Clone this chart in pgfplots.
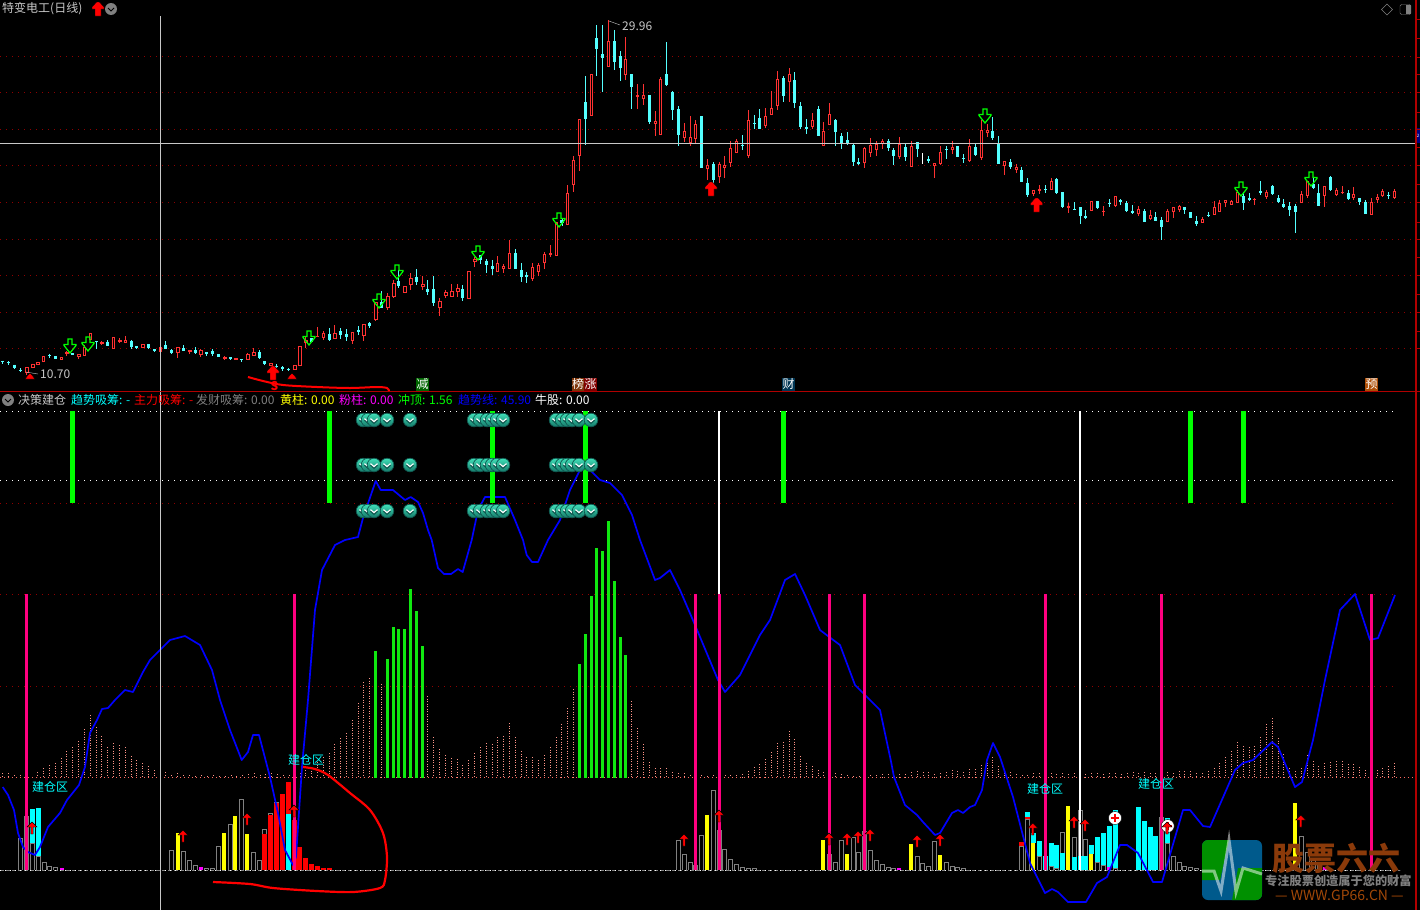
\documentclass[border=0pt]{standalone}
\usepackage{fontspec}
\setmainfont{Noto Sans CJK SC}
\usepackage{pgfplots}
\usepackage{pgfplotstable}
\pgfplotsset{compat=1.18}

\definecolor{upred}{HTML}{FF3232}
\definecolor{downcyan}{HTML}{54FFFF}
\definecolor{gridred}{HTML}{900000}
\definecolor{axisred}{HTML}{B00000}
\definecolor{hair}{HTML}{C8C8C8}
\definecolor{salmon}{HTML}{FF9488}
\definecolor{barpink}{HTML}{FF0080}
\definecolor{bargray}{HTML}{808080}
\definecolor{volgreen}{HTML}{10E810}
\definecolor{wmbrown}{HTML}{8B3A0A}
\definecolor{wmgreen}{HTML}{009000}
\definecolor{wmblue}{HTML}{005A8C}
\definecolor{purecyan}{HTML}{00FFFF}
\definecolor{pureyellow}{HTML}{FFFF00}
\definecolor{puremagenta}{HTML}{FF00FF}
\definecolor{puregreen}{HTML}{00FF00}
\definecolor{purered}{HTML}{FF0000}
\definecolor{pureblue}{HTML}{0000FF}
\definecolor{cointop}{HTML}{40E0B8}
\definecolor{coinbot}{HTML}{147868}
\definecolor{coinrim}{HTML}{0F5850}

% all positions in pixels, so 1 unit = 1px
\pgfplotstableread{
x t b h l
26.7 367 373 367 375
32.7 363.5 368 363.5 368
38 362 365 362 365
43.5 356 362 356 362
61.5 357 359.5 357 360
66.7 352 354 351 356
78.7 354 357 354 359
84.4 347 356 345 356
90.4 333 340 333 340
101.8 342 344 341 345
113.6 337 349 337 349
119.7 340 342 338 343
125.6 340 343 336 343
142.7 344 348 344 348
160.3 347 352 347 352
177.7 347 353 347 358
189.7 350 352 350 354
200.7 350 355 349 357
224.7 357 359 356 360
235.7 358 360 358 360
247.7 354 360 353 360
253.7 352 356 348 356
270.7 363 366 363 366
294.7 365 370 365 370
299.7 346 366 346 366
305.7 340 343 337 348
317.4 336 337 327 337
323.4 333 338 331 340
334.7 333 339 325 339
352.3 332 341 332 344
363.7 324 336 324 341
375.7 302 320 302 321
387.7 296 308 293 310
393.7 283 297 280 298
404.7 286 293 286 293
410.7 278 285 273 290
422.7 284 287 276 290
439.7 301 308 298 316
445.7 292 296 290 298
451.7 291 297 284 297
457.7 288 292 284 297
468.7 271 299 271 299
474.7 259 262 257 267
497.3 263 272 256 272
503.3 266 269 264 273
509.3 253 269 240 269
532.3 267 279 263 281
538.3 265 272 263 276
544.3 254 263 252 269
550.3 253 255 245 257
556.3 222 256 222 256
567.3 193.3 224.7 185 224.7
573.3 160 185 156 192
579.3 119 156 119 171
591.3 74 116 74 116
608.3 41 67 20 67
625.3 59 75 37 80
637.3 95 97 84 109
643.3 95 99 84 105
655.3 121 124 111 136
660.3 79 135 77 135
684.3 131 138 123 142
690.3 137 143 116 146
695.3 124 139 120 143
707.3 165 169 159 180
719.3 164 177 162 183
724.3 165 168 156 178
730.3 148 163 141 167
736.3 141 153 139 153
748.3 120 156 110 158
765.3 116 126 108 128
771.3 108 115 91 115
777.3 79 106 71 110
789.3 74 82 68 102
812.3 120 127 113 129
823.3 131 146 122 146
829.3 114 125 103 125
864.3 148 163 147 168
870.3 145 153 138 157
876.3 144 150 141 156
882.3 141 144 139 149
899.3 144 157 137 159
911.3 146 167 141 167
934.3 163 165.5 163 178
940.3 152 164 146 165
952.3 147 150 141 154
969.3 146 161 139 162
981.3 130 158 120 160
987.3 130 133 124 137
1004.3 161 166 161 175
1016.3 167 170 164 173
1033.3 190 194 190 196
1039.3 189 191 185 194
1051.3 181 190 178 190
1068.3 206 208 203 213
1091.3 201 211 201 211
1103.3 211 212 206 216
1115.3 196 206 196 207
1138.3 209 214 206 216
1150.3 215 219 210 220
1167.3 211 222 209 222
1173.3 207 212 207 218
1179.3 206 210 205 212
1202.3 219 223 217 223
1214.3 207 215 201 215
1219.3 203 212 200 212
1225.3 200 203 200 207
1231.3 201 205 200 205
1237.3 192 203 190 203
1254.3 199 200 198 205
1266.3 192 197 190 199
1301.3 194 203 191 203
1307.3 181 196 181 198
1324.3 186 196 186 207
1336.3 190 195 188 196
1342.3 192 193 186 194
1353.3 194 198 187 200
1371.3 202 215 198 215
1377.3 197 200 194 203
1382.3 191 196 189 197
1394.3 191 198 189 199
}\redcandles

\pgfplotstableread{
x t b h l
2.3 360.5 362 360.5 364
8.3 362 363 361 365
14.3 364.5 368 364.5 369
20.3 369.5 370.5 368 372
49.5 355 356 353.5 358
55.5 356 358.5 356 358.5
72.7 353 355 353 355
96.4 341 342 341 349
107.7 341.5 345.5 340 345.5
131.6 341 347 340 349
136.7 346 348 346 349
148.7 344 348 344 349
154.7 349 351 349 352
165.7 345 349 341 349
171.7 350 353 349 354
183.7 348 351 345 351
195.7 350 353 347 354
206.7 352 354 352 356
212.7 351 354 349 356
218.7 354 357 354 357
230.4 357 359 357 360
241.7 359 360 359 362
259.7 352 358 350 359
264.7 361 364 361 365
276.7 366 367 364 368
282.7 367 369 366 371
288.7 369 370 368 371
311.7 338 342 338 342
329.4 334 340 328 341
340.7 331 335 328 339
346.7 334 337 329 341
358.3 330 332 326 335
369.7 323 326 322 328
381.7 302 308 291 308
398.7 281 286 270 288
416.7 277 282 269 285
427.7 289 292 280 295
433.7 289 303 276 306
462.7 289 298 285 301
480.7 255 260 255 264
486.7 261 265 259 273
492.7 266 269 260 275
515.3 253 269 249 269
521.3 270 277 263 282
526.7 275 277 272 283
562 220 223 218 226
585.3 102 119 76 145
596.7 38 49 25 76
602.3 54 58 25 92
614.3 41 62 30 70
620.3 56 68 51 81
631.3 74 87 74 109
649.3 95 122 95 124
666.3 74 85 42 86
672.3 92 110 91 120
678.3 109 135 106 146
701.3 116 168 116 168
713.3 164 180 162 184
742.3 144.5 146 135 150
754.3 123 124 115 129
759.3 118 129 109 129
783.3 78 96 76 102
794.3 80 103 72 108
800.3 106 127 102 129
806.3 127 129 119 134
818.3 109 136 106 136
835.3 120 132 119 146
841.3 136 143 133 149
847.3 140 143 132 145
853.3 145 162 144 166
858.3 162 164 158 165
888.3 141 148 139 151
893.3 150 156 148 165
905.3 147 157 144 161
917.3 142 149 142 157
928.3 159 161 156 163
946.3 149 150 146 159
957.7 146 157 146 157
963.3 158 159 154 163
975.3 147 155 143 156
992.3 131 138 117 140
998.3 143 164 136 164
1010.3 162 167 159 169
1021.3 170 182 167 182
1027.3 183 195 178 197
1045.3 189 190 185 193
1056.3 179 193 178 194
1062.3 192 207 192 208
1074.3 209 209.5 202 210
1080.3 207 216 207 224
1085.3 216 218 210 219
1097.3 201 208 201 209
1109.3 203 204 199 207
1120.3 200 202 199 205
1126.3 203 211 201 212
1132.3 211 213 205 214
1144.3 211 222 209 222
1155.3 217 221 212 221
1161.3 220 227 217 240
1184.3 207 210 207 214
1190.3 212 218 212 218
1196.3 221 224 216 226
1208.3 214.5 216 212 217
1243.3 196 203 192 210
1249.3 198 200 193 201
1260.3 191 193 181 195
1272.3 186 194 185 195
1278.3 198 202 195 203
1283.3 204 207 199 208
1289.3 206 210 202 216
1295.3 206 212 204 233
1313.3 184 188 178 189
1318.3 193 206 184 206
1330.3 177 190 176 191
1348.3 193 199 190 200
1359.3 198 202 198 205
1365.3 202 214 200 214
1388.3 195 196 192 199
}\cyancandles

\pgfplotstableread{
x t
2.7 773
8.7 773
14.7 775
20.7 775
37.7 772
43.7 768
49.7 765
55.7 763
61.7 758
66.7 751
72.7 747
78.7 741
84.7 729
90.7 715
96.7 727
101.7 736
107.7 747
113.7 743
119.7 745
125.7 747
131.7 756
136.7 760
142.7 763
148.7 766
154.7 770
165.7 772
171.7 775
177.7 773
183.7 775
189.7 775
195.7 776
201 775
207 776
213 775
219 776
225 776
231 775
236 776
242 775
248 774
254 773
260 775
265 774
271 773
277 774
283 775
289 775
300 773
305.7 770
311.7 768
317.7 762
323.7 757
329.3 753
334.3 744
340.3 738
346.3 733
352.3 720
358.3 703
363.3 682
369.3 678
381.3 684
427.3 696
433.3 737
439.3 749
445.3 755
451.3 758
457.3 759
462.3 765
468.3 760
474.3 753
480.3 747
486.3 743
492.3 744
497.3 737
503.3 736
509.3 723
515.3 737
521.3 751
526.3 757
532.3 757
538.3 760
544.3 755
550.3 747
556.3 737
561.3 724
567.3 708
573.3 689
631.3 701
637.3 728
643.3 744
649.3 762
655.3 768
660 768
666 768
672 772
678 773
684 773
690 775
701 775
707 776
713 775
725 775
730 775
736 775
742 774
748 771
754 767
759 764
765 759
771 752
777 743
783 742
789 731
794 739
800 756
806 763
812 766
818 770
823 772
835 773
841 774
847 775
853 776
859 776
870 775
876 775
882 774
888 774
894 776
899 774
905 774
911 772
917 771
923 772
928 772
934 774
940 773
946 772
952 770
957 771
963 772
969 769
975 769
981 765
987 760
992 757
998 766
1004 770
1010 772
1016 774
1022 775
1027 775
1033 773
1039 773
1051 773
1056 774
1062 773
1068 774
1074 773
1080 773
1085 774
1091 773
1097 773
1103 774
1109 773
1115 773
1121 774
1127 773
1133 772
1138 773
1144 772
1150 773
1155 773
1167 772
1173 773
1179 771
1184 771
1190 771
1196 773
1202 773
1208 771
1214 768
1219 763
1225 757
1231 751
1237 742
1243 746
1249 747
1254 746
1260 737
1266 724
1272 718
1278 738
1283 754
1289 768
1295 771
1301 768
1307 755
1313 761
1318 766
1324 763
1330 762
1336 761
1342 761
1348 764
1353 764
1359 767
1365 770
1377 770
1382 768
1388 766
1394 763
}\salmonbars

\pgfplotstableread{
x t
375.3 651
387.3 659
393.3 627
398.3 629
404.3 629
410.3 589
416.3 611
422.3 646
579.3 664
585.3 634
591.3 596
596.3 548
602.3 551
608.3 521
614.3 581
620.3 637
625.3 655
}\greenbars

\pgfplotstableread{
x t
20.7 838
26.7 816
32.7 843
38.7 856
44.7 862
49.7 866
55.7 867
171.7 850
183.3 851
189.3 860
195.3 865
206.7 868
212.7 868
218.3 846
230.3 824
241.3 799
253.3 852
259.3 860
264.3 829
270.3 813
276.3 802
294.3 820
678.3 840
684.3 854
690.3 862
695.3 865
701.3 835
713.3 790
719.3 830
724.3 849
730.3 859
736.3 864
742.3 867
748.3 868
754.3 868
829.3 854
835.3 862
841.3 840
853.3 837
858.3 852
864.3 831
870.3 850
876.3 860
882.3 864
888.3 867
893.3 868
917.3 856
922.3 863
928.3 866
934.3 841
946.3 862
952.3 866
957.3 867
963.3 868
1021.3 846
1027.3 819
1039.3 856
1051.3 866
1056.3 868
1062.3 832
1074.3 837
1080.3 810
1085.3 839
1097.3 862
1103.3 865
1115.3 868
1161.3 817
1167.3 843
1173.3 856
1179.3 862
1184.3 866
1190.3 867
1196.3 868
1301.7 836
1307.3 852
1313.3 860
1319.3 865
}\graybars

\pgfplotstableread{
x t b
177.7 833 870
224.3 833 870
235.3 816 870
247.3 834 870
707.3 815 870
823.3 840 870
847.3 854 870
911.3 844 870
940.3 855 870
1033.3 843 870
1068.3 806 870
1091.3 854 870
1295.3 803 870
}\yellowbars

\pgfplotstableread{
x t b
264.3 834 870
270.3 815 870
276.3 803 870
282.3 794 870
288.3 782 814
294.3 820 870
299.3 847 870
305.3 858 870
311.3 864 870
317.3 866 870
323.3 868 870
329.3 868 870
1021.3 842 846
1027.3 817 819
}\redbars

\pgfplotstableread{
x t b
32.7 809 843
38.7 808 856
288.3 814 870
1027.3 812 817
1033.3 833 843
1039.3 841 856
1045.3 856 870
1051.3 843 866
1056.3 845 868
1062.3 853 870
1074.3 857 870
1080.3 856 870
1085.3 856 870
1091.3 845 854
1097.3 837 862
1103.3 833 865
1109.3 826 867
1115.3 810 868
1138.3 807 870
1144.3 821 870
1150.3 827 870
1155.3 836 870
1167.3 818 843
}\cyanbars

\pgfplotstableread{
x t b
61.7 868 870
200.7 867 870
899.3 868 870
1109.3 867 870
1325 867 870
}\magentabars

\pgfplotstableread{
x t b
26.5 594 870
294.5 594 870
695.5 594 870
719 594 870
829 594 870
864.5 594 870
1045.5 594 870
1161.5 594 870
1371.5 594 870
}\pinkbars

\pgfplotstableread{
x t b
72.5 411 503
329.5 411 503
492.5 411 503
585.5 411 503
783.5 411 503
1190.5 411 503
1243.5 411 503
}\signalbars

\pgfplotstableread{
x t b
719 411 595
1080 411 870
}\whitebars

\pgfdeclareplotmark{greendown}{
  \path[x=1pt,y=1pt,draw=puregreen,line width=1.2pt]
    (-2,7)--(2,7)--(2,1.5)--(6,1.5)--(6,0.5)--(0,-7)--(-6,0.5)--(-6,1.5)--(-2,1.5)--cycle;
}
\pgfdeclareplotmark{bigup}{
  \path[x=1pt,y=1pt,fill=purered]
    (-1.5,7)--(1.5,7)--(6,2)--(6,0)--(3,0)--(3,-7)--(-3,-7)--(-3,0)--(-6,0)--(-6,2)--cycle;
}
\pgfdeclareplotmark{smallup}{
  \path[x=1pt,y=1pt,fill=purered]
    (0,6)--(5,1)--(1.2,1)--(1.2,-6)--(-1.2,-6)--(-1.2,1)--(-5,1)--cycle;
}
\pgfdeclareplotmark{dome}{
  \path[x=1pt,y=1pt,fill=purered]
    (-5,-3)--(-2,1)--(0,3)--(2,1)--(5,-3)--cycle;
}
\pgfdeclareplotmark{coin}{
  \path[x=1pt,y=1pt,top color=cointop,bottom color=coinbot,draw=coinrim,line width=0.7pt] (0,0) circle (6.8);
  \path[x=1pt,y=1pt,draw=coinrim,line width=1.6pt] (-3.5,0)--(0,-3)--(3.5,0);
  \path[x=1pt,y=1pt,draw=white,line width=1.1pt] (-3.5,1.4)--(0,-1.6)--(3.5,1.4);
}
\pgfdeclareplotmark{pluscircle}{
  \path[x=1pt,y=1pt,fill=white] (0,0) circle (6.5);
  \path[x=1pt,y=1pt,draw=purered,line width=1.6pt] (-4,0)--(4,0) (0,-4)--(0,4);
}

\pgfplotsset{
  vbar/.style 2 args={forget plot,draw=none,mark=none,
    error bars/y dir=plus,error bars/y explicit,error bars/error mark=none,
    error bars/error bar style={line width=#1,color=#2,solid}},
  salmonbar/.style={forget plot,draw=none,mark=none,
    error bars/y dir=plus,error bars/y explicit,error bars/error mark=none,
    error bars/error bar style={line width=1pt,color=salmon,dash pattern=on 1.2pt off 1.3pt}},
  dotline/.style 2 args={forget plot,mark=none,color=#1,line width=1pt,dash pattern=on 1pt off #2},
  pts/.style={forget plot,only marks,mark=#1},
}
\tikzset{
  lbl/.style={inner sep=0pt,anchor=west,font=\fontsize{12}{12}\selectfont},
  tag/.style={inner sep=0pt,minimum size=13pt,fill=#1,text=white,font=\fontsize{12}{12}\selectfont},
}

\newcommand{\bars}[3]{\addplot[vbar={#1}{#2}] table[x=x,y=t,y error expr=\thisrow{b}-\thisrow{t}] {#3};}
\newcommand{\basebars}[3]{\addplot[vbar={#1}{#2}] table[x=x,y=t,y error expr=870-\thisrow{t}] {#3};}

\begin{document}
\begin{tikzpicture}
\fill[black] (0,0) rectangle (1420pt,910pt);
\begin{axis}[
  at={(0,0)},anchor=south west,
  scale only axis,width=1420pt,height=910pt,
  xmin=0,xmax=1420,ymin=0,ymax=910,y dir=reverse,
  hide axis,clip=true,
]
% upper panel grid
\addplot[dotline={gridred}{5pt}] coordinates {(0,56.5)(1415,56.5)};
\addplot[dotline={gridred}{5pt}] coordinates {(0,92.5)(1415,92.5)};
\addplot[dotline={gridred}{5pt}] coordinates {(0,129.5)(1415,129.5)};
\addplot[dotline={gridred}{5pt}] coordinates {(0,165.5)(1415,165.5)};
\addplot[dotline={gridred}{5pt}] coordinates {(0,202.5)(1415,202.5)};
\addplot[dotline={gridred}{5pt}] coordinates {(0,239.5)(1415,239.5)};
\addplot[dotline={gridred}{5pt}] coordinates {(0,275.5)(1415,275.5)};
\addplot[dotline={gridred}{5pt}] coordinates {(0,312.5)(1415,312.5)};
\addplot[dotline={gridred}{5pt}] coordinates {(0,348.5)(1415,348.5)};

% candles
\addplot[vbar={1pt}{upred}] table[x=x,y=h,y error expr=\thisrow{l}-\thisrow{h}] {\redcandles};
\addplot[vbar={1pt}{downcyan}] table[x=x,y=h,y error expr=\thisrow{l}-\thisrow{h}] {\cyancandles};
\addplot[vbar={3.2pt}{downcyan}] table[x=x,y=t,y error expr=\thisrow{b}-\thisrow{t}] {\cyancandles};
\addplot[vbar={3.6pt}{upred}] table[x=x,y=t,y error expr=\thisrow{b}-\thisrow{t}] {\redcandles};
\addplot[vbar={1.6pt}{black}] table[x=x,y expr=\thisrow{t}+1,y error expr={max(\thisrow{b}-\thisrow{t}-2,0)}] {\redcandles};
\addplot[vbar={1pt}{white}] coordinates {(922.3,153) +- (0,11)};

% lower panel lines
\addplot[dotline={white}{5pt}] coordinates {(0,411.5)(1395,411.5)};
\addplot[dotline={white}{5pt}] coordinates {(0,480.5)(1395,480.5)};
\addplot[dotline={gridred}{5pt}] coordinates {(0,503.5)(1395,503.5)};
\addplot[dotline={gridred}{5pt}] coordinates {(0,594.5)(1395,594.5)};
\addplot[dotline={gridred}{5pt}] coordinates {(0,686.5)(1395,686.5)};

% salmon histogram and its zero line
\addplot[salmonbar] table[x=x,y=t,y error expr=777-\thisrow{t}] {\salmonbars};
\addplot[dotline={salmon!70!purered}{3pt}] coordinates {(0,777.5)(1415,777.5)};
\addplot[vbar={3pt}{volgreen}] table[x=x,y=t,y error expr=778-\thisrow{t}] {\greenbars};

% zero line of the lower histogram
\addplot[forget plot,mark=none,color=bargray,line width=1pt,dash pattern=on 4pt off 2pt] coordinates {(0,870)(1400,870)};
\addplot[dotline={white}{4pt}] coordinates {(0,870)(1400,870)};

% hollow gray columns, then the filled ones
\basebars{5pt}{bargray}{\graybars}
\addplot[vbar={3pt}{black}] table[x=x,y expr=\thisrow{t}+1,y error expr=870-\thisrow{t}-1] {\graybars};
\bars{5pt}{purecyan}{\cyanbars}
\bars{5pt}{purered}{\redbars}
\bars{4pt}{pureyellow}{\yellowbars}
\bars{4pt}{puremagenta}{\magentabars}

% coins
\addplot[pts=coin] coordinates {
  (363,420)(368,420)(374,420)(387,420)(410,420)
  (474,420)(480,420)(487,420)(492,420)(497,420)(503,420)
  (556,420)(562,420)(567,420)(572,420)(579,420)(591,420)
  (363,465)(368,465)(374,465)(387,465)(410,465)
  (474,465)(480,465)(487,465)(492,465)(497,465)(503,465)
  (556,465)(562,465)(567,465)(572,465)(579,465)(591,465)
  (363,511)(368,511)(374,511)(387,511)(410,511)
  (474,511)(480,511)(487,511)(492,511)(497,511)(503,511)
  (556,511)(562,511)(567,511)(572,511)(579,511)(591,511)
};

% trend line
\addplot[forget plot,mark=none,color=pureblue,line width=1.7pt,line join=round] coordinates {
  (2.7,787)(8,795)(14,810)(18,833)(23,847)(28,852)(35,855)(40,847)(48,827)(60,813)(67,800)
  (79,785)(85,767)(90,733)(97,720)(102,709)(108,708)(115,700)(125,690)(133,692)(143,672)
  (150,660)(160,650)(170,640)(185,636)(200,645)(212,670)(220,700)(230,730)(241.7,760)
  (248,752)(253,735)(259,735)(270,777)(278,813)(285,850)(293,865)(296,857)(302,767)(308,700)
  (315,610)(322,570)(335,545)(345,540)(358,537)(363,518)(375.7,481)(380.7,490)(393,490)
  (405,500)(410.7,497)(418,502)(423,513)(428,530)(431.7,540)(438,568)(444,574)(451,574)
  (458,569)(462.7,572)(471.7,540)(478,510)(485,497)(505,497)(515,520)(523,540)(526.7,555)
  (532,562)(538,562)(548,540)(560,520)(570,490)(580,470)(590,470)(600,480)(610,483)(622,495)
  (632,515)(640,540)(655,580)(660,578)(670,570)(680,590)(695,625)(718,680)(725,692)(740,675)
  (760,635)(770,620)(785,580)(795,574)(805,595)(820,630)(840,645)(855,685)(880,710)(890.7,760)
  (894,777)(905,805)(917,815)(923,822)(935,835)(940,833)(952,813)(958,810)(963,813)(970,807)
  (975,805)(982,790)(987,760)(993,743)(1000,757)(1013,797)(1030,863)(1045,893)(1052,889)
  (1058,892)(1068,902)(1086,902)(1097,883)(1107,877)(1120,845)(1127,845)(1138,853)(1153,882)
  (1162,882)(1183,810)(1190,810)(1203,826)(1210,827)(1235,770)(1243,763)(1253,760)(1272,742)
  (1278,747)(1295,787)(1302,782)(1313,740)(1325,680)(1340,610)(1355,594)(1370,640)(1378,638)(1395,595)
};

% signal columns
\bars{5pt}{puregreen}{\signalbars}
\bars{2pt}{white}{\whitebars}
\bars{3pt}{barpink}{\pinkbars}

% arrows
\addplot[pts=greendown] coordinates {
  (70,346)(88,344)(309,338)(379,301)(397,272)(478,253)(559,220)(985,116)(1241,189)(1311,179)
};
\addplot[pts=bigup] coordinates {(98,9)(273,373)(711,189)(1036.7,205)};
\addplot[pts=dome] coordinates {(30,376)(292,376)};
\addplot[pts=pluscircle] coordinates {(1115,818)(1167.7,826)};
\addplot[pts=smallup] coordinates {
  (32,828)(183,836)(247,819)(294,811)(684,840)(719,816)(829,839)(847,839)(858,837)(870,835)
  (917,841)(940,840)(1032.7,829)(1074,822)(1085,825)(1167,828)(1300.7,821)
};

% crosshair and frame
\addplot[forget plot,mark=none,color=hair,line width=1pt] coordinates {(0,143.3)(1415,143.3)};
\addplot[forget plot,mark=none,color=hair,line width=1pt] coordinates {(160.3,16)(160.3,910)};
\addplot[forget plot,mark=none,color=axisred,line width=1pt] coordinates {(0,391)(1420,391)};
\addplot[forget plot,mark=none,color=axisred,line width=1.2pt] coordinates {(1416,0)(1416,910)};
\addplot[forget plot,only marks,mark=-,mark size=2pt,color=axisred] coordinates {
  (1418,19)(1418,38)(1418,57)(1418,74)(1418,92)(1418,112)(1418,129)(1418,147)(1418,165)
  (1418,184)(1418,202)(1418,222)(1418,239)(1418,257)(1418,275)(1418,294)(1418,312)(1418,331)(1418,348)
};

% hand drawn red marks
\addplot[forget plot,mark=none,smooth,color=purered,line width=2pt] coordinates {
  (248,377)(263,381)(283,385)(317,387)(350,388)(377,387)(387,388)(389,391)
};
\addplot[forget plot,mark=none,smooth,color=purered,line width=2.2pt] coordinates {
  (303,767)(315,769)(328,775)(350,793)(370,810)(383,833)(387,857)(385,880)(380,888)
  (353,892)(317,891)(273,888)(250,884)(213,882)
};

% title rows
\node[lbl,text=hair] at (2,9) {特变电工(日线)};
\fill[bargray] (111,9) circle[radius=6];
\draw[black,line width=1pt] (108,8)--(111,11)--(114,8);
\fill[bargray] (8,400) circle[radius=6];
\draw[black,line width=1pt] (5,399)--(8,402)--(11,399);
\node[lbl,text=hair] at (18,400) {决策建仓};
\node[lbl,text=purecyan] at (71,400) {趋势吸筹: -};
\node[lbl,text=purered] at (134,400) {主力吸筹: -};
\node[lbl,text=bargray] at (196,400) {发财吸筹: 0.00};
\node[lbl,text=pureyellow] at (280,400) {黄柱: 0.00};
\node[lbl,text=puremagenta] at (339,400) {粉柱: 0.00};
\node[lbl,text=puregreen] at (398,400) {冲顶: 1.56};
\node[lbl,text=pureblue] at (458,400) {趋势线: 45.90};
\node[lbl,text=white] at (535,400) {牛股: 0.00};

% price labels
\node[lbl,text=hair] at (40,374) {10.70};
\draw[hair] (26,372)--(38,374);
\node[lbl,text=hair] at (622,26) {29.96};
\draw[hair] (609,21)--(620,25);
\node[text=purered,inner sep=0pt,font=\bfseries\fontsize{12}{12}\selectfont] at (274.5,386) {S};

% event tags
\node[tag=wmgreen!70!black] at (422.5,384) {减};
\node[tag=wmbrown!90!black] at (578,384) {榜};
\node[tag=purered!50!black] at (590.5,384) {涨};
\node[tag=wmblue!60!black] at (788.5,384) {财};
\node[tag=wmbrown!70!orange] at (1371.5,384) {预};

% zone labels
\node[lbl,text=purecyan] at (32,787) {建仓区};
\node[lbl,text=purecyan] at (288,760) {建仓区};
\node[lbl,text=purecyan] at (1027,789) {建仓区};
\node[lbl,text=purecyan] at (1138,784) {建仓区};

% top right icons and price flag
\draw[bargray] (1387,4)--(1392.5,9.5)--(1387,15)--(1381.5,9.5)--cycle;
\draw[bargray,rounded corners=1.5pt] (1400,4.5) rectangle (1411,14.5);
\fill[bargray] (1406,5) rectangle (1410.5,14);
\fill[pureblue!50!black] (1416.5,128) rectangle (1420,143);
\node[text=white,inner sep=0pt,font=\fontsize{4.5}{5}\selectfont] at (1418.2,135.5) {2};

% watermark
\fill[wmblue,rounded corners=6pt] (1202,840) rectangle (1262,900);
\begin{scope}
\clip[rounded corners=6pt] (1202,840) rectangle (1262,900);
\fill[wmgreen] (1202,840) -- (1229,840) -- (1220,880) -- (1202,880) -- cycle;
\fill[wmgreen] (1232,900) -- (1238,868) -- (1262,868) -- (1262,900) -- cycle;
\end{scope}
\draw[white,opacity=0.5,line width=3pt] (1202,871)--(1214,871)--(1221,891)--(1229,840)--(1236,892)--(1243,868)--(1262,874);
\node[text=wmbrown,inner sep=0pt,anchor=west,font=\bfseries\fontsize{32}{32}\selectfont] at (1272,858) {股票六六};
\node[text=bargray,inner sep=0pt,anchor=west,font=\bfseries\fontsize{12.2}{12}\selectfont] at (1265,881) {专注股票创造属于您的财富};
\node[text=wmbrown!80!orange,inner sep=0pt,anchor=west,font=\fontsize{14}{14}\selectfont] at (1275,895.5) {--- WWW.GP66.CN ---};
\end{axis}
\end{tikzpicture}
\end{document}
